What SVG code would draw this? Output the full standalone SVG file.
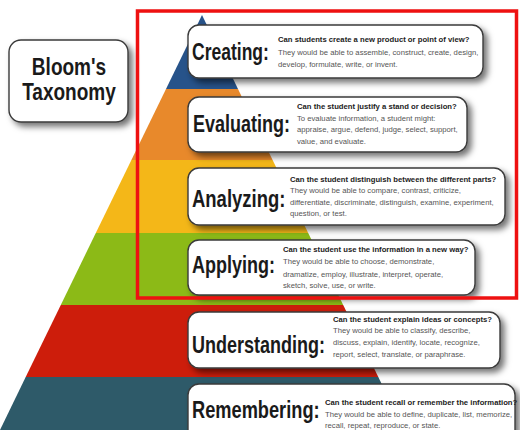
<svg xmlns="http://www.w3.org/2000/svg" width="520" height="430" viewBox="0 0 520 430">
  <defs>
    <filter id="sh" x="-10%" y="-20%" width="130%" height="160%">
      <feDropShadow dx="4" dy="4" stdDeviation="3" flood-color="#000" flood-opacity="0.55"/>
    </filter>
  </defs>
  <style>
    .box { fill: #ffffff; stroke: #3a3a3a; stroke-width: 1.4; filter: url(#sh); }
    .lbl { font-family: "Liberation Sans", Arial, sans-serif; font-weight: bold; font-size: 24px; fill: #1a1a1a; }
    .q { font-family: "Liberation Sans", Arial, sans-serif; font-weight: bold; font-size: 7.7px; fill: #222222; }
    .d { font-family: "Liberation Sans", Arial, sans-serif; font-size: 7.7px; fill: #555555; }
    .title { font-family: "Liberation Sans", Arial, sans-serif; font-weight: bold; font-size: 23.5px; fill: #1a1a1a; text-anchor: middle; }
  </style>
  <rect width="520" height="430" fill="#ffffff"/>

  <g id="pyramid">
    <polygon points="202,15 238,89 166,89" fill="#27538a"/>
    <polygon points="166,89 238,89 272.6,160 131.4,160" fill="#e8892b"/>
    <polygon points="131.4,160 272.6,160 308.2,233 95.8,233" fill="#f4b718"/>
    <polygon points="95.8,233 308.2,233 343.2,305 60.8,305" fill="#8cba17"/>
    <polygon points="60.8,305 343.2,305 378.3,377 25.7,377" fill="#cd1d0b"/>
    <polygon points="25.7,377 378.3,377 404,430 0,430" fill="#2e5a69"/>
  </g>

  <g id="title">
    <rect class="box" x="9" y="40" width="119" height="82" rx="12"/>
    <text class="title" transform="translate(69,75) scale(0.81,1)">Bloom's</text>
    <text class="title" transform="translate(69,100) scale(0.81,1)">Taxonomy</text>
  </g>

  <g id="creating">
    <rect class="box" x="188" y="25" width="295" height="53" rx="11"/>
    <text class="lbl" transform="translate(192,60) scale(0.73,1)">Creating:</text>
    <text class="q" x="278" y="42">Can students create a new product or point of view?</text>
    <text class="d" x="278" y="55">They would be able to assemble, construct, create, design,</text>
    <text class="d" x="278" y="67">develop, formulate, write, or invent.</text>
  </g>

  <g id="evaluating">
    <rect class="box" x="188" y="97" width="279" height="55" rx="11"/>
    <text class="lbl" transform="translate(193,132) scale(0.75,1)">Evaluating:</text>
    <text class="q" x="297" y="109">Can the student justify a stand or decision?</text>
    <text class="d" x="297" y="121">To evaluate information, a student might:</text>
    <text class="d" x="297" y="132">appraise, argue, defend, judge, select, support,</text>
    <text class="d" x="297" y="144">value, and evaluate.</text>
  </g>

  <g id="analyzing">
    <rect class="box" x="188" y="168" width="317" height="57" rx="11"/>
    <text class="lbl" transform="translate(192,207) scale(0.77,1)">Analyzing:</text>
    <text class="q" x="290" y="182">Can the student distinguish between the different parts?</text>
    <text class="d" x="290" y="193">They would be able to compare, contrast, criticize,</text>
    <text class="d" x="290" y="205">differentiate, discriminate, distinguish, examine, experiment,</text>
    <text class="d" x="290" y="216">question, or test.</text>
  </g>

  <g id="applying">
    <rect class="box" x="188" y="240" width="287" height="55" rx="11"/>
    <text class="lbl" transform="translate(192,273) scale(0.75,1)">Applying:</text>
    <text class="q" x="283" y="252">Can the student use the information in a new way?</text>
    <text class="d" x="283" y="264">They would be able to choose, demonstrate,</text>
    <text class="d" x="283" y="277">dramatize, employ, illustrate, interpret, operate,</text>
    <text class="d" x="283" y="288">sketch, solve, use, or write.</text>
  </g>

  <g id="understanding">
    <rect class="box" x="188" y="312" width="312" height="56" rx="11"/>
    <text class="lbl" transform="translate(192,353) scale(0.75,1)">Understanding:</text>
    <text class="q" x="333" y="322">Can the student explain ideas or concepts?</text>
    <text class="d" x="333" y="333">They would be able to classify, describe,</text>
    <text class="d" x="333" y="345">discuss, explain, identify, locate, recognize,</text>
    <text class="d" x="333" y="357">report, select, translate, or paraphrase.</text>
  </g>

  <g id="remembering">
    <rect class="box" x="188" y="384" width="327" height="62" rx="11"/>
    <text class="lbl" transform="translate(192,418) scale(0.76,1)">Remembering:</text>
    <text class="q" x="325" y="405">Can the student recall or remember the information?</text>
    <text class="d" x="325" y="417">They would be able to define, duplicate, list, memorize,</text>
    <text class="d" x="325" y="428">recall, repeat, reproduce, or state.</text>
  </g>

  <g id="highlight">
    <rect x="137.5" y="11" width="379" height="287" fill="none" stroke="#ee1111" stroke-width="3.5"/>
  </g>
</svg>
